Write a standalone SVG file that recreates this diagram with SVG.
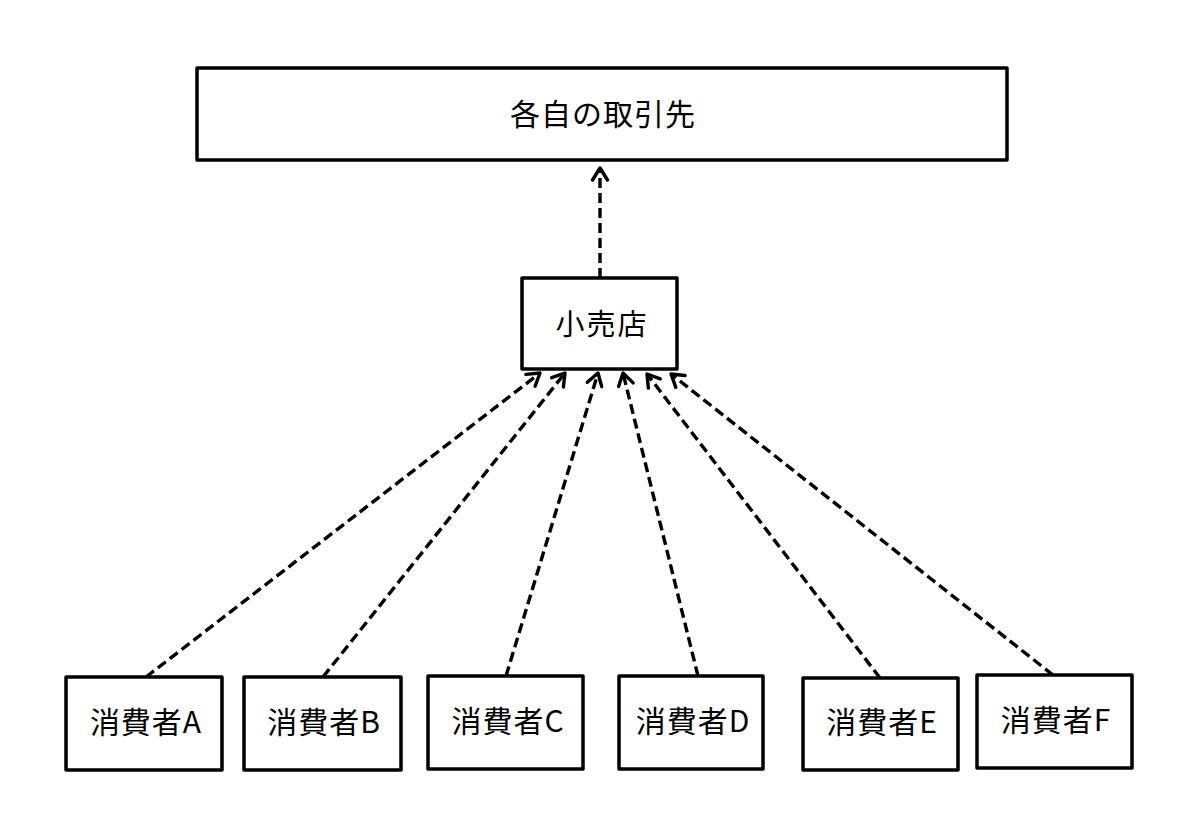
<svg xmlns="http://www.w3.org/2000/svg" width="1200" height="838" viewBox="0 0 1200 838">
<defs>
<style>
.box{fill:#fff;stroke:#000;stroke-width:3.5;stroke-linejoin:round}
.lbl{font-family:"Noto Sans CJK JP","Noto Sans",sans-serif;fill:#000;text-anchor:middle}
.big{font-size:30px;letter-spacing:1px}
.mid{font-size:29px;letter-spacing:2px}
.con{fill:none;stroke:#000;stroke-width:3.4;stroke-dasharray:10 5;marker-end:url(#arr)}
</style>
<marker id="arr" markerUnits="userSpaceOnUse" viewBox="-14 -9 16 18" refX="0" refY="0" markerWidth="16" markerHeight="18" orient="auto" overflow="visible">
<path d="M-12,-7.5 L0,0 L-12,7.5" fill="none" stroke="#000" stroke-width="3.4" stroke-linecap="round" stroke-linejoin="round"/>
</marker>
</defs>
<rect width="1200" height="838" fill="#fff"/>
<g id="connectors">
<path class="con" d="M600,278 L600,168"/>
<path class="con" d="M146,677 L540,373"/>
<path class="con" d="M323,677 L565,373"/>
<path class="con" d="M506,676 L598,373"/>
<path class="con" d="M698,676 L623,373"/>
<path class="con" d="M880,678 L647,374"/>
<path class="con" d="M1053,675 L671,374"/>
</g>
<g id="partners">
<rect class="box" x="197" y="68" width="810" height="92"/>
<text class="lbl big" x="603" y="125">各自の取引先</text>
</g>
<g id="retailer">
<rect class="box" x="522" y="278" width="155" height="91"/>
<text class="lbl mid" x="602" y="335">小売店</text>
</g>
<g id="consumerA">
<rect class="box" x="66" y="677" width="156" height="93"/>
<text class="lbl big" x="146" y="733">消費者A</text>
</g>
<g id="consumerB">
<rect class="box" x="244" y="677" width="157" height="93"/>
<text class="lbl big" x="324" y="733">消費者B</text>
</g>
<g id="consumerC">
<rect class="box" x="428" y="676" width="155" height="93"/>
<text class="lbl big" x="508" y="732">消費者C</text>
</g>
<g id="consumerD">
<rect class="box" x="619" y="676" width="144" height="93"/>
<text class="lbl big" x="693" y="732">消費者D</text>
</g>
<g id="consumerE">
<rect class="box" x="803" y="678" width="155" height="92"/>
<text class="lbl big" x="882" y="733">消費者E</text>
</g>
<g id="consumerF">
<rect class="box" x="977" y="675" width="155" height="93"/>
<text class="lbl big" x="1056" y="731">消費者F</text>
</g>
</svg>
